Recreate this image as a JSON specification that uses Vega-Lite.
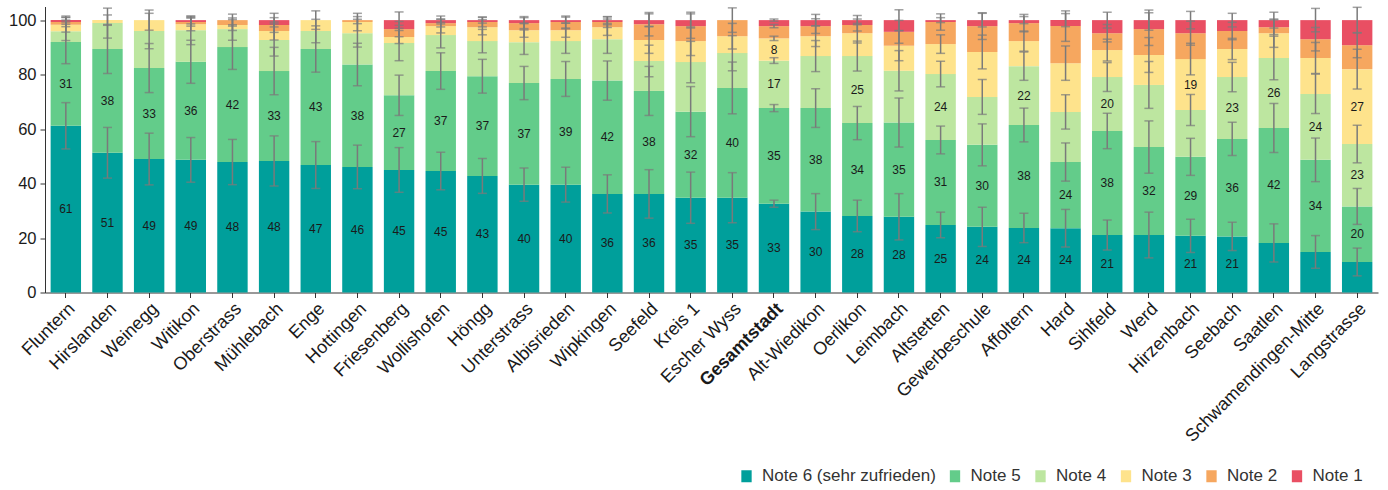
{
  "$schema": "https://vega.github.io/schema/vega-lite/v6.json",
  "width": 1333,
  "height": 286,
  "autosize": {"type": "none"},
  "padding": {"left": 45, "top": 6.5, "right": 10, "bottom": 197.5},
  "background": "white",
  "config": {
    "view": {"stroke": null},
    "font": "Liberation Sans",
    "axis": {"grid": false, "domainColor": "#333", "tickColor": "#333", "labelColor": "#1a1a1a", "tickSize": 5}
  },
  "data": {"values": [
    {"d":"Fluntern","n":"Note 6 (sehr zufrieden)","v":61.2,"lo":52.7,"hi":69.7,"lab":"61"},
    {"d":"Fluntern","n":"Note 5","v":30.8,"lo":84.0,"hi":100.0,"lab":"31"},
    {"d":"Fluntern","n":"Note 4","v":3.9,"lo":92.5,"hi":99.3},
    {"d":"Fluntern","n":"Note 3","v":2.4,"lo":95.6,"hi":101.0},
    {"d":"Fluntern","n":"Note 2","v":1.0,"lo":97.6,"hi":101.0},
    {"d":"Fluntern","n":"Note 1","v":0.7,"lo":98.5,"hi":101.5},
    {"d":"Hirslanden","n":"Note 6 (sehr zufrieden)","v":51.3,"lo":42.0,"hi":60.6,"lab":"51"},
    {"d":"Hirslanden","n":"Note 5","v":38.1,"lo":80.4,"hi":98.4,"lab":"38"},
    {"d":"Hirslanden","n":"Note 4","v":9.5,"lo":93.4,"hi":104.4},
    {"d":"Hirslanden","n":"Note 3","v":1.1,"lo":98.1,"hi":101.9},
    {"d":"Weinegg","n":"Note 6 (sehr zufrieden)","v":49.0,"lo":39.5,"hi":58.5,"lab":"49"},
    {"d":"Weinegg","n":"Note 5","v":33.4,"lo":73.4,"hi":91.4,"lab":"33"},
    {"d":"Weinegg","n":"Note 4","v":13.6,"lo":89.5,"hi":102.5},
    {"d":"Weinegg","n":"Note 3","v":4.0,"lo":96.3,"hi":103.7},
    {"d":"Witikon","n":"Note 6 (sehr zufrieden)","v":48.7,"lo":40.5,"hi":56.9,"lab":"49"},
    {"d":"Witikon","n":"Note 5","v":36.0,"lo":76.8,"hi":92.6,"lab":"36"},
    {"d":"Witikon","n":"Note 4","v":11.6,"lo":91.0,"hi":101.5},
    {"d":"Witikon","n":"Note 3","v":2.2,"lo":96.1,"hi":100.9},
    {"d":"Witikon","n":"Note 2","v":0.8,"lo":97.8,"hi":100.8},
    {"d":"Witikon","n":"Note 1","v":0.7,"lo":98.6,"hi":101.4},
    {"d":"Oberstrass","n":"Note 6 (sehr zufrieden)","v":47.9,"lo":39.6,"hi":56.2,"lab":"48"},
    {"d":"Oberstrass","n":"Note 5","v":42.2,"lo":81.9,"hi":98.3,"lab":"42"},
    {"d":"Oberstrass","n":"Note 4","v":6.6,"lo":92.6,"hi":100.8},
    {"d":"Oberstrass","n":"Note 3","v":1.5,"lo":96.2,"hi":100.2},
    {"d":"Oberstrass","n":"Note 2","v":1.8,"lo":97.8,"hi":102.2},
    {"d":"Mühlebach","n":"Note 6 (sehr zufrieden)","v":48.3,"lo":39.1,"hi":57.5,"lab":"48"},
    {"d":"Mühlebach","n":"Note 5","v":33.0,"lo":72.6,"hi":90.0,"lab":"33"},
    {"d":"Mühlebach","n":"Note 4","v":11.4,"lo":86.8,"hi":98.6},
    {"d":"Mühlebach","n":"Note 3","v":3.3,"lo":92.7,"hi":99.3},
    {"d":"Mühlebach","n":"Note 2","v":2.2,"lo":95.5,"hi":100.9},
    {"d":"Mühlebach","n":"Note 1","v":1.8,"lo":97.5,"hi":102.5},
    {"d":"Enge","n":"Note 6 (sehr zufrieden)","v":46.8,"lo":38.2,"hi":55.4,"lab":"47"},
    {"d":"Enge","n":"Note 5","v":42.6,"lo":80.9,"hi":97.9,"lab":"43"},
    {"d":"Enge","n":"Note 4","v":6.6,"lo":91.7,"hi":100.3},
    {"d":"Enge","n":"Note 3","v":4.0,"lo":96.6,"hi":103.4},
    {"d":"Hottingen","n":"Note 6 (sehr zufrieden)","v":46.1,"lo":38.1,"hi":54.1,"lab":"46"},
    {"d":"Hottingen","n":"Note 5","v":37.6,"lo":75.9,"hi":91.5,"lab":"38"},
    {"d":"Hottingen","n":"Note 4","v":11.5,"lo":90.1,"hi":100.3},
    {"d":"Hottingen","n":"Note 3","v":4.1,"lo":96.1,"hi":102.5},
    {"d":"Hottingen","n":"Note 2","v":0.7,"lo":98.7,"hi":101.3},
    {"d":"Friesenberg","n":"Note 6 (sehr zufrieden)","v":45.0,"lo":36.8,"hi":53.2,"lab":"45"},
    {"d":"Friesenberg","n":"Note 5","v":27.4,"lo":65.0,"hi":79.8,"lab":"27"},
    {"d":"Friesenberg","n":"Note 4","v":19.2,"lo":85.1,"hi":98.1},
    {"d":"Friesenberg","n":"Note 3","v":2.2,"lo":91.4,"hi":96.2},
    {"d":"Friesenberg","n":"Note 2","v":2.9,"lo":93.9,"hi":99.5},
    {"d":"Friesenberg","n":"Note 1","v":3.3,"lo":97.0,"hi":103.0},
    {"d":"Wollishofen","n":"Note 6 (sehr zufrieden)","v":44.6,"lo":37.7,"hi":51.5,"lab":"45"},
    {"d":"Wollishofen","n":"Note 5","v":36.7,"lo":74.6,"hi":88.0,"lab":"37"},
    {"d":"Wollishofen","n":"Note 4","v":13.2,"lo":89.8,"hi":99.2},
    {"d":"Wollishofen","n":"Note 3","v":3.3,"lo":95.3,"hi":100.3},
    {"d":"Wollishofen","n":"Note 2","v":1.1,"lo":97.5,"hi":100.4},
    {"d":"Wollishofen","n":"Note 1","v":1.1,"lo":98.6,"hi":101.5},
    {"d":"Höngg","n":"Note 6 (sehr zufrieden)","v":42.8,"lo":36.4,"hi":49.2,"lab":"43"},
    {"d":"Höngg","n":"Note 5","v":36.6,"lo":73.2,"hi":85.6,"lab":"37"},
    {"d":"Höngg","n":"Note 4","v":12.9,"lo":88.0,"hi":96.6},
    {"d":"Höngg","n":"Note 3","v":5.1,"lo":94.6,"hi":100.2},
    {"d":"Höngg","n":"Note 2","v":1.9,"lo":97.5,"hi":101.1},
    {"d":"Höngg","n":"Note 1","v":0.7,"lo":98.9,"hi":101.1},
    {"d":"Unterstrass","n":"Note 6 (sehr zufrieden)","v":39.6,"lo":33.5,"hi":45.7,"lab":"40"},
    {"d":"Unterstrass","n":"Note 5","v":37.3,"lo":70.8,"hi":83.0,"lab":"37"},
    {"d":"Unterstrass","n":"Note 4","v":15.0,"lo":87.4,"hi":96.4},
    {"d":"Unterstrass","n":"Note 3","v":4.4,"lo":93.7,"hi":98.9},
    {"d":"Unterstrass","n":"Note 2","v":2.6,"lo":96.9,"hi":100.9},
    {"d":"Unterstrass","n":"Note 1","v":1.1,"lo":98.7,"hi":101.3},
    {"d":"Albisrieden","n":"Note 6 (sehr zufrieden)","v":39.6,"lo":33.2,"hi":46.0,"lab":"40"},
    {"d":"Albisrieden","n":"Note 5","v":38.8,"lo":72.0,"hi":84.8,"lab":"39"},
    {"d":"Albisrieden","n":"Note 4","v":13.9,"lo":87.8,"hi":96.8},
    {"d":"Albisrieden","n":"Note 3","v":4.0,"lo":93.7,"hi":98.9},
    {"d":"Albisrieden","n":"Note 2","v":3.0,"lo":97.1,"hi":101.5},
    {"d":"Albisrieden","n":"Note 1","v":0.7,"lo":98.9,"hi":101.1},
    {"d":"Wipkingen","n":"Note 6 (sehr zufrieden)","v":36.2,"lo":29.2,"hi":43.2,"lab":"36"},
    {"d":"Wipkingen","n":"Note 5","v":41.6,"lo":70.6,"hi":85.0,"lab":"42"},
    {"d":"Wipkingen","n":"Note 4","v":15.2,"lo":87.8,"hi":98.3},
    {"d":"Wipkingen","n":"Note 3","v":4.4,"lo":94.4,"hi":100.4},
    {"d":"Wipkingen","n":"Note 2","v":1.9,"lo":97.3,"hi":101.3},
    {"d":"Wipkingen","n":"Note 1","v":0.7,"lo":98.8,"hi":101.2},
    {"d":"Seefeld","n":"Note 6 (sehr zufrieden)","v":36.2,"lo":27.3,"hi":45.1,"lab":"36"},
    {"d":"Seefeld","n":"Note 5","v":37.8,"lo":65.0,"hi":83.0,"lab":"38"},
    {"d":"Seefeld","n":"Note 4","v":11.0,"lo":79.2,"hi":90.8},
    {"d":"Seefeld","n":"Note 3","v":7.7,"lo":87.8,"hi":97.6},
    {"d":"Seefeld","n":"Note 2","v":5.8,"lo":94.2,"hi":102.8},
    {"d":"Seefeld","n":"Note 1","v":1.5,"lo":97.7,"hi":102.3},
    {"d":"Kreis 1","n":"Note 6 (sehr zufrieden)","v":34.8,"lo":25.4,"hi":44.2,"lab":"35"},
    {"d":"Kreis 1","n":"Note 5","v":31.6,"lo":57.2,"hi":75.6,"lab":"32"},
    {"d":"Kreis 1","n":"Note 4","v":18.2,"lo":77.0,"hi":92.2},
    {"d":"Kreis 1","n":"Note 3","v":7.7,"lo":87.0,"hi":97.5},
    {"d":"Kreis 1","n":"Note 2","v":5.5,"lo":93.3,"hi":102.3},
    {"d":"Kreis 1","n":"Note 1","v":2.2,"lo":97.1,"hi":102.9},
    {"d":"Escher Wyss","n":"Note 6 (sehr zufrieden)","v":34.8,"lo":25.6,"hi":44.0,"lab":"35"},
    {"d":"Escher Wyss","n":"Note 5","v":40.3,"lo":65.6,"hi":84.6,"lab":"40"},
    {"d":"Escher Wyss","n":"Note 4","v":12.8,"lo":81.4,"hi":94.3},
    {"d":"Escher Wyss","n":"Note 3","v":6.2,"lo":89.4,"hi":98.8},
    {"d":"Escher Wyss","n":"Note 2","v":5.9,"lo":95.5,"hi":104.5},
    {"d":"Gesamtstadt","n":"Note 6 (sehr zufrieden)","v":32.6,"lo":31.3,"hi":33.9,"lab":"33"},
    {"d":"Gesamtstadt","n":"Note 5","v":35.1,"lo":66.4,"hi":69.0,"lab":"35"},
    {"d":"Gesamtstadt","n":"Note 4","v":17.4,"lo":84.1,"hi":86.2,"lab":"17"},
    {"d":"Gesamtstadt","n":"Note 3","v":8.2,"lo":92.5,"hi":94.1,"lab":"8"},
    {"d":"Gesamtstadt","n":"Note 2","v":4.5,"lo":97.2,"hi":98.4},
    {"d":"Gesamtstadt","n":"Note 1","v":2.2,"lo":99.6,"hi":100.4},
    {"d":"Alt-Wiedikon","n":"Note 6 (sehr zufrieden)","v":29.7,"lo":23.1,"hi":36.3,"lab":"30"},
    {"d":"Alt-Wiedikon","n":"Note 5","v":38.0,"lo":60.6,"hi":74.8,"lab":"38"},
    {"d":"Alt-Wiedikon","n":"Note 4","v":19.1,"lo":81.1,"hi":92.5},
    {"d":"Alt-Wiedikon","n":"Note 3","v":7.3,"lo":90.3,"hi":97.9},
    {"d":"Alt-Wiedikon","n":"Note 2","v":3.7,"lo":95.1,"hi":100.5},
    {"d":"Alt-Wiedikon","n":"Note 1","v":2.2,"lo":97.9,"hi":102.1},
    {"d":"Oerlikon","n":"Note 6 (sehr zufrieden)","v":28.1,"lo":22.3,"hi":33.9,"lab":"28"},
    {"d":"Oerlikon","n":"Note 5","v":34.1,"lo":56.1,"hi":68.3,"lab":"34"},
    {"d":"Oerlikon","n":"Note 4","v":24.6,"lo":81.3,"hi":92.3,"lab":"25"},
    {"d":"Oerlikon","n":"Note 3","v":8.4,"lo":91.6,"hi":98.8},
    {"d":"Oerlikon","n":"Note 2","v":3.0,"lo":96.0,"hi":100.4},
    {"d":"Oerlikon","n":"Note 1","v":1.8,"lo":98.3,"hi":101.7},
    {"d":"Leimbach","n":"Note 6 (sehr zufrieden)","v":27.8,"lo":19.3,"hi":36.3,"lab":"28"},
    {"d":"Leimbach","n":"Note 5","v":34.6,"lo":53.4,"hi":71.4,"lab":"35"},
    {"d":"Leimbach","n":"Note 4","v":19.0,"lo":74.0,"hi":88.8},
    {"d":"Leimbach","n":"Note 3","v":9.2,"lo":85.1,"hi":96.1},
    {"d":"Leimbach","n":"Note 2","v":5.1,"lo":91.5,"hi":99.9},
    {"d":"Leimbach","n":"Note 1","v":4.3,"lo":96.2,"hi":103.8},
    {"d":"Altstetten","n":"Note 6 (sehr zufrieden)","v":24.8,"lo":20.1,"hi":29.5,"lab":"25"},
    {"d":"Altstetten","n":"Note 5","v":31.2,"lo":50.9,"hi":61.1,"lab":"31"},
    {"d":"Altstetten","n":"Note 4","v":24.2,"lo":75.5,"hi":84.9,"lab":"24"},
    {"d":"Altstetten","n":"Note 3","v":11.0,"lo":87.8,"hi":94.6},
    {"d":"Altstetten","n":"Note 2","v":8.1,"lo":96.3,"hi":102.3},
    {"d":"Altstetten","n":"Note 1","v":0.7,"lo":99.1,"hi":100.9},
    {"d":"Gewerbeschule","n":"Note 6 (sehr zufrieden)","v":24.1,"lo":16.9,"hi":31.3,"lab":"24"},
    {"d":"Gewerbeschule","n":"Note 5","v":30.1,"lo":46.5,"hi":61.9,"lab":"30"},
    {"d":"Gewerbeschule","n":"Note 4","v":17.6,"lo":65.4,"hi":78.2},
    {"d":"Gewerbeschule","n":"Note 3","v":16.5,"lo":82.1,"hi":94.5},
    {"d":"Gewerbeschule","n":"Note 2","v":9.5,"lo":92.9,"hi":102.7},
    {"d":"Gewerbeschule","n":"Note 1","v":2.2,"lo":97.5,"hi":102.5},
    {"d":"Affoltern","n":"Note 6 (sehr zufrieden)","v":23.7,"lo":18.3,"hi":29.1,"lab":"24"},
    {"d":"Affoltern","n":"Note 5","v":37.8,"lo":55.3,"hi":67.7,"lab":"38"},
    {"d":"Affoltern","n":"Note 4","v":21.6,"lo":77.9,"hi":88.3,"lab":"22"},
    {"d":"Affoltern","n":"Note 3","v":9.2,"lo":88.6,"hi":96.0},
    {"d":"Affoltern","n":"Note 2","v":6.6,"lo":95.7,"hi":102.1},
    {"d":"Affoltern","n":"Note 1","v":1.1,"lo":98.7,"hi":101.3},
    {"d":"Hard","n":"Note 6 (sehr zufrieden)","v":23.6,"lo":16.7,"hi":30.5,"lab":"24"},
    {"d":"Hard","n":"Note 5","v":24.3,"lo":40.9,"hi":54.9,"lab":"24"},
    {"d":"Hard","n":"Note 4","v":18.4,"lo":60.0,"hi":72.6},
    {"d":"Hard","n":"Note 3","v":17.9,"lo":77.9,"hi":90.5},
    {"d":"Hard","n":"Note 2","v":13.6,"lo":92.2,"hi":103.4},
    {"d":"Hard","n":"Note 1","v":2.2,"lo":97.6,"hi":102.4},
    {"d":"Sihlfeld","n":"Note 6 (sehr zufrieden)","v":21.1,"lo":15.6,"hi":26.6,"lab":"21"},
    {"d":"Sihlfeld","n":"Note 5","v":38.2,"lo":52.8,"hi":65.8,"lab":"38"},
    {"d":"Sihlfeld","n":"Note 4","v":19.8,"lo":73.8,"hi":84.4,"lab":"20"},
    {"d":"Sihlfeld","n":"Note 3","v":9.9,"lo":85.0,"hi":93.0},
    {"d":"Sihlfeld","n":"Note 2","v":6.2,"lo":92.0,"hi":98.4},
    {"d":"Sihlfeld","n":"Note 1","v":4.8,"lo":97.1,"hi":102.9},
    {"d":"Werd","n":"Note 6 (sehr zufrieden)","v":21.1,"lo":12.7,"hi":29.5},
    {"d":"Werd","n":"Note 5","v":32.3,"lo":43.8,"hi":63.0,"lab":"32"},
    {"d":"Werd","n":"Note 4","v":22.8,"lo":67.6,"hi":84.8},
    {"d":"Werd","n":"Note 3","v":11.0,"lo":80.8,"hi":93.6},
    {"d":"Werd","n":"Note 2","v":9.5,"lo":90.7,"hi":102.7},
    {"d":"Werd","n":"Note 1","v":3.3,"lo":96.3,"hi":103.7},
    {"d":"Hirzenbach","n":"Note 6 (sehr zufrieden)","v":20.8,"lo":14.7,"hi":26.9,"lab":"21"},
    {"d":"Hirzenbach","n":"Note 5","v":29.0,"lo":43.0,"hi":56.6,"lab":"29"},
    {"d":"Hirzenbach","n":"Note 4","v":17.2,"lo":61.3,"hi":72.7},
    {"d":"Hirzenbach","n":"Note 3","v":18.7,"lo":79.9,"hi":91.5,"lab":"19"},
    {"d":"Hirzenbach","n":"Note 2","v":9.5,"lo":90.8,"hi":99.6},
    {"d":"Hirzenbach","n":"Note 1","v":4.8,"lo":96.8,"hi":103.2},
    {"d":"Seebach","n":"Note 6 (sehr zufrieden)","v":20.6,"lo":15.4,"hi":25.8,"lab":"21"},
    {"d":"Seebach","n":"Note 5","v":35.8,"lo":50.3,"hi":62.5,"lab":"36"},
    {"d":"Seebach","n":"Note 4","v":22.7,"lo":73.7,"hi":84.5,"lab":"23"},
    {"d":"Seebach","n":"Note 3","v":10.3,"lo":85.5,"hi":93.3},
    {"d":"Seebach","n":"Note 2","v":6.6,"lo":92.8,"hi":99.2},
    {"d":"Seebach","n":"Note 1","v":4.0,"lo":97.5,"hi":102.5},
    {"d":"Saatlen","n":"Note 6 (sehr zufrieden)","v":18.2,"lo":11.2,"hi":25.2},
    {"d":"Saatlen","n":"Note 5","v":42.2,"lo":51.4,"hi":69.4,"lab":"42"},
    {"d":"Saatlen","n":"Note 4","v":25.7,"lo":78.1,"hi":94.1,"lab":"26"},
    {"d":"Saatlen","n":"Note 3","v":9.1,"lo":90.0,"hi":100.4},
    {"d":"Saatlen","n":"Note 2","v":2.2,"lo":94.7,"hi":100.1},
    {"d":"Saatlen","n":"Note 1","v":2.6,"lo":97.1,"hi":102.9},
    {"d":"Schwamendingen-Mitte","n":"Note 6 (sehr zufrieden)","v":14.9,"lo":8.9,"hi":20.9},
    {"d":"Schwamendingen-Mitte","n":"Note 5","v":33.8,"lo":40.7,"hi":56.7,"lab":"34"},
    {"d":"Schwamendingen-Mitte","n":"Note 4","v":24.2,"lo":65.7,"hi":80.2,"lab":"24"},
    {"d":"Schwamendingen-Mitte","n":"Note 3","v":13.2,"lo":80.4,"hi":91.8},
    {"d":"Schwamendingen-Mitte","n":"Note 2","v":6.9,"lo":88.7,"hi":97.3},
    {"d":"Schwamendingen-Mitte","n":"Note 1","v":7.0,"lo":95.7,"hi":104.3},
    {"d":"Langstrasse","n":"Note 6 (sehr zufrieden)","v":11.2,"lo":6.1,"hi":16.3},
    {"d":"Langstrasse","n":"Note 5","v":20.4,"lo":25.0,"hi":38.2,"lab":"20"},
    {"d":"Langstrasse","n":"Note 4","v":22.9,"lo":47.6,"hi":61.4,"lab":"23"},
    {"d":"Langstrasse","n":"Note 3","v":27.5,"lo":74.7,"hi":89.3,"lab":"27"},
    {"d":"Langstrasse","n":"Note 2","v":8.8,"lo":86.2,"hi":95.4},
    {"d":"Langstrasse","n":"Note 1","v":9.2,"lo":95.3,"hi":104.7}
  ]},
  "encoding": {
    "x": {
      "field": "d", "type": "nominal", "sort": null, "title": null,
      "scale": {"paddingInner": 0.27, "paddingOuter": 0.135},
      "axis": {
        "labelAngle": -45, "labelFontSize": 18, "labelPadding": 2, "labelLimit": 400, "labelOverlap": false,
        "labelFontWeight": {"condition": {"test": "datum.value === 'Gesamtstadt'", "value": "bold"}, "value": "normal"}
      }
    }
  },
  "layer": [
    {
      "mark": {"type": "bar"},
      "encoding": {
        "y": {
          "field": "v", "type": "quantitative", "stack": "zero", "title": null,
          "scale": {"domain": [0, 105], "nice": false},
          "axis": {"values": [0, 20, 40, 60, 80, 100], "labelFontSize": 16.5, "labelPadding": 4}
        },
        "color": {
          "field": "n", "type": "nominal",
          "scale": {
            "domain": ["Note 6 (sehr zufrieden)", "Note 5", "Note 4", "Note 3", "Note 2", "Note 1"],
            "range": ["#009F9B", "#63CC8A", "#BDE6A0", "#FEE38C", "#F6A75F", "#E94F63"]
          },
          "legend": {
            "orient": "none", "legendX": 693, "legendY": 461, "direction": "horizontal", "title": null,
            "symbolType": "M-0.86,-1H0.86V1H-0.86Z", "symbolSize": 144, "symbolStrokeWidth": 0, "symbolOpacity": 1,
            "labelFontSize": 17, "labelOffset": 7, "columnPadding": 10.5, "padding": 0, "labelColor": "#333", "labelLimit": 400
          }
        },
        "order": {"field": "n", "sort": "descending"}
      }
    },
    {
      "mark": {"type": "rule", "color": "#7a7a7a", "strokeWidth": 1.5},
      "encoding": {
        "y": {"field": "lo", "type": "quantitative", "title": null, "scale": {"domain": [0, 105], "nice": false}},
        "y2": {"field": "hi"}
      }
    },
    {
      "mark": {"type": "tick", "color": "#7a7a7a", "size": 9, "thickness": 1.5},
      "encoding": {
        "y": {"field": "lo", "type": "quantitative", "title": null, "scale": {"domain": [0, 105], "nice": false}}
      }
    },
    {
      "mark": {"type": "tick", "color": "#7a7a7a", "size": 9, "thickness": 1.5},
      "encoding": {
        "y": {"field": "hi", "type": "quantitative", "title": null, "scale": {"domain": [0, 105], "nice": false}}
      }
    },
    {
      "transform": [
        {"stack": "v", "groupby": ["d"], "sort": [{"field": "n", "order": "descending"}], "as": ["y0", "y1"]},
        {"calculate": "(datum.y0 + datum.y1) / 2", "as": "ym"},
        {"filter": "datum.lab != null"}
      ],
      "mark": {"type": "text", "fontSize": 12, "color": "#1a1a1a"},
      "encoding": {
        "y": {"field": "ym", "type": "quantitative", "title": null, "scale": {"domain": [0, 105], "nice": false}},
        "text": {"field": "lab", "type": "nominal"}
      }
    }
  ]
}
